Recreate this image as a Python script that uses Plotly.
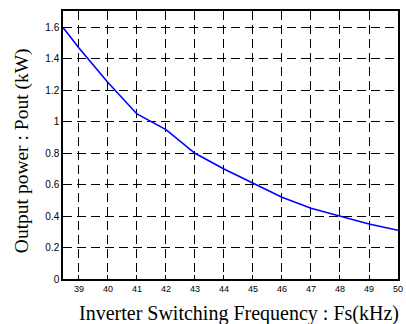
import plotly.graph_objects as go

freq_khz = [38.45, 39, 40, 41, 42, 43, 44, 45, 46, 47, 48, 49, 50]
pout_kw = [1.60, 1.47, 1.25, 1.05, 0.95, 0.80, 0.70, 0.61, 0.52, 0.45, 0.40, 0.35, 0.31]
x_ticks = [39, 40, 41, 42, 43, 44, 45, 46, 47, 48, 49, 50]
y_ticks = [0, 0.2, 0.4, 0.6, 0.8, 1.0, 1.2, 1.4, 1.6]
y_tick_text = ["0", "0.2", "0.4", "0.6", "0.8", "1", "1.2", "1.4", "1.6"]

fig = go.Figure()
fig.add_trace(go.Scatter(x=freq_khz, y=pout_kw, mode="lines",
                         line=dict(color="#0000ff", width=1.6), showlegend=False))

axis_common = dict(showline=True, linecolor="black", linewidth=1.5, mirror=True,
                   ticks="inside", ticklen=4, tickcolor="black",
                   showgrid=True, gridcolor="black", gridwidth=1, griddash="9px,5px",
                   zeroline=False, ticklabeloverflow="allow")

fig.update_xaxes(range=[38.45, 50], tickvals=x_ticks,
                 tickfont=dict(family="Arial, Liberation Sans", size=9, color="black"),
                 **axis_common)
fig.update_yaxes(range=[0, 1.705], tickvals=y_ticks, ticktext=y_tick_text,
                 tickfont=dict(family="Arial, Liberation Sans", size=10, color="black"),
                 **axis_common)

fig.add_annotation(text="Inverter Switching Frequency : Fs(kHz)", xref="paper", yref="paper",
                   x=0.526, y=-0.127, xanchor="center", yanchor="middle", showarrow=False,
                   font=dict(family="Times New Roman, Liberation Serif", size=20, color="black"))
fig.add_annotation(text="Output power : Pout (kW)", xref="paper", yref="paper",
                   x=-0.12, y=0.48, xanchor="center", yanchor="middle", showarrow=False,
                   textangle=-90,
                   font=dict(family="Times New Roman, Liberation Serif", size=19.5, color="black"))

fig.update_layout(width=406, height=324, margin=dict(l=63, r=3, t=11, b=45),
                  plot_bgcolor="white", paper_bgcolor="white")

fig.write_html("out.html")
